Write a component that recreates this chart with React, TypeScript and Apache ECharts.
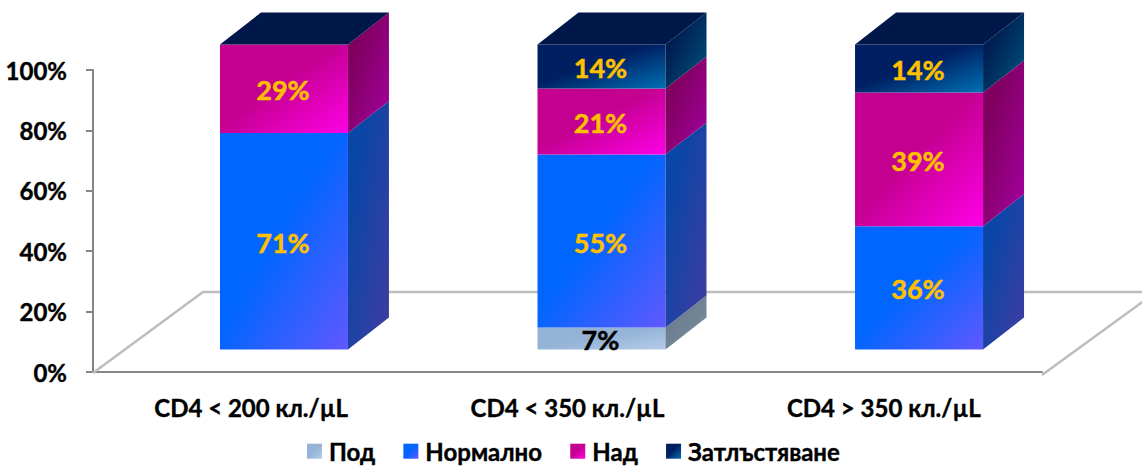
import React, { useEffect, useRef } from "react";
import * as echarts from "echarts";

const categories = ["CD4 < 200 кл./µL", "CD4 < 350 кл./µL", "CD4 > 350 кл./µL"];
const under = [0, 7, 0];
const normal = [71, 55, 36];
const over = [29, 21, 39];
const obese = [0, 14, 14];

const seriesNames = ["Под", "Нормално", "Над", "Затлъстяване"];
const seriesValues = [under, normal, over, obese];

// Projection of the 3D box: front plane is lifted off the axis plane, depth runs up-right.
const FRONT_DX = 34;
const FRONT_DY = -22.5;
const FRONT_SCALE = 305 / 302;
const COLUMN_SPREAD = 1.2;
const HALF_WIDTH = 64;
const DEPTH_X = 41;
const DEPTH_Y = -32;
const FLOOR_X = 110;
const FLOOR_Y = -80;
const FONT = "Lato, 'Noto Sans', sans-serif";

const grad = (a: string, b: string, mid = 0.45) =>
  new echarts.graphic.LinearGradient(0, 0, 1, 1, [
    { offset: 0, color: a },
    { offset: mid, color: a },
    { offset: 1, color: b },
  ]);

const faces = [
  { front: ["#94b3d6", "#b4cbe6"], side: ["#6b7c8c", "#7a8fa3"], label: "#000000" },
  { front: ["#0066ff", "#6058ff"], side: ["#0a46a8", "#423c9f"], label: "#ffc000" },
  { front: ["#c40090", "#ff00e6"], side: ["#80005f", "#a400a0"], label: "#ffc000" },
  { front: ["#001f63", "#0070b4"], side: ["#001c50", "#00557f"], label: "#ffc000" },
];

const cumulative = (cat: number, upto: number) => {
  let sum = 0;
  for (let s = 0; s < upto; s++) sum += seriesValues[s][cat];
  return sum;
};

const seriesData = (s: number) =>
  categories.map((_, c) => {
    const total = cumulative(c, seriesValues.length);
    return [
      c,
      (cumulative(c, s) / total) * 100,
      (cumulative(c, s + 1) / total) * 100,
      seriesValues[s][c],
    ];
  });

const boxItem = (s: number) => (_params: any, api: any) => {
  const cat = api.value(0);
  const raw = api.value(3);
  const base = api.coord([cat, 0]);
  const project = (v: number) =>
    base[1] + (api.coord([cat, v])[1] - base[1]) * FRONT_SCALE + FRONT_DY;
  const cx = base[0] + FRONT_DX + (cat - 1) * COLUMN_SPREAD;
  const l = cx - HALF_WIDTH;
  const r = cx + HALF_WIDTH;
  const y0 = project(api.value(1));
  const y1 = project(api.value(2));
  const children: any[] = [];
  if (raw > 0) {
    children.push({
      type: "polygon",
      shape: { points: [[l, y1], [r, y1], [r, y0], [l, y0]] },
      style: { fill: grad(faces[s].front[0], faces[s].front[1]) },
    });
    children.push({
      type: "polygon",
      shape: {
        points: [
          [r, y1],
          [r + DEPTH_X, y1 + DEPTH_Y],
          [r + DEPTH_X, y0 + DEPTH_Y],
          [r, y0],
        ],
      },
      style: { fill: grad(faces[s].side[0], faces[s].side[1], 0.25) },
    });
    children.push({
      type: "text",
      z2: 10,
      style: {
        text: raw + "%",
        x: cx - 1,
        y: (y0 + y1) / 2 + 1,
        textAlign: "center",
        textVerticalAlign: "middle",
        fill: faces[s].label,
        stroke: faces[s].label,
        lineWidth: 0.5,
        fontFamily: FONT,
        fontWeight: "bold",
        fontSize: 27,
      },
    });
  }
  // The last stack member caps every column, whatever its own share.
  if (s === seriesValues.length - 1) {
    children.push({
      type: "polygon",
      shape: {
        points: [
          [l, y1],
          [l + DEPTH_X, y1 + DEPTH_Y],
          [r + DEPTH_X, y1 + DEPTH_Y],
          [r, y1],
        ],
      },
      style: { fill: "#00174a" },
    });
  }
  return { type: "group", children };
};

const floorItem = (params: any) => {
  const { x, y, width, height } = params.coordSys;
  const bottom = y + height;
  const right = x + width;
  const style = { stroke: "#bdbdbd", lineWidth: 2.5, fill: "none" };
  return {
    type: "group",
    children: [
      {
        type: "polyline",
        shape: {
          points: [
            [x, bottom + 1],
            [x + FLOOR_X, bottom + FLOOR_Y],
            [right + FLOOR_X, bottom + FLOOR_Y],
          ],
        },
        style,
      },
      {
        type: "polyline",
        shape: { points: [[right, bottom + 3], [right + FLOOR_X, bottom + FLOOR_Y + 3]] },
        style,
      },
    ],
  };
};

const heavyText = { textBorderColor: "#000", textBorderWidth: 0.4 };

export default function App() {
  const ref = useRef<HTMLDivElement>(null);
  useEffect(() => {
    const chart = echarts.init(ref.current!, undefined, { renderer: "svg" });
    chart.setOption({
      animation: false,
      backgroundColor: "#ffffff",
      grid: { left: 93, right: 100, top: 70, bottom: 94 },
      legend: {
        data: seriesNames,
        left: 302,
        top: 434,
        icon: "rect",
        itemWidth: 15,
        itemHeight: 15,
        itemGap: 28,
        textStyle: {
          fontFamily: FONT,
          fontWeight: "bold",
          fontSize: 24,
          color: "#000",
          padding: [0, 0, 0, 2],
          ...heavyText,
        },
      },
      xAxis: {
        type: "category",
        data: categories,
        offset: 3,
        axisLine: { lineStyle: { color: "#868686", width: 2 } },
        axisTick: { length: 5, lineStyle: { color: "#868686", width: 2 } },
        axisLabel: {
          fontFamily: FONT,
          fontWeight: "bold",
          fontSize: 24,
          color: "#000",
          margin: 20,
          ...heavyText,
        },
      },
      yAxis: {
        type: "value",
        min: 0,
        max: 100,
        interval: 20,
        splitLine: { show: false },
        axisLine: { show: true, lineStyle: { color: "#868686", width: 2 } },
        axisTick: { show: true, length: 7, lineStyle: { color: "#868686", width: 2 } },
        axisLabel: {
          formatter: "{value}%",
          fontFamily: FONT,
          fontWeight: "bold",
          fontSize: 24,
          color: "#000",
          margin: 26,
          padding: [3, 0, 0, 0],
          ...heavyText,
        },
      },
      series: [
        {
          type: "custom",
          name: "floor",
          z: 1,
          silent: true,
          renderItem: floorItem,
          data: [[0, 0]],
          encode: { x: 0, y: 1 },
        },
        ...seriesNames.map((name, s) => ({
          type: "custom",
          name,
          z: 2 + s,
          renderItem: boxItem(s),
          itemStyle: { color: grad(faces[s].front[0], faces[s].front[1]) },
          encode: { x: 0, y: [1, 2] },
          data: seriesData(s),
        })),
      ],
    });
    return () => chart.dispose();
  }, []);
  return (
    <div
      ref={ref}
      style={{ position: "absolute", left: 0, top: 0, width: 1142, height: 466 }}
    />
  );
}
